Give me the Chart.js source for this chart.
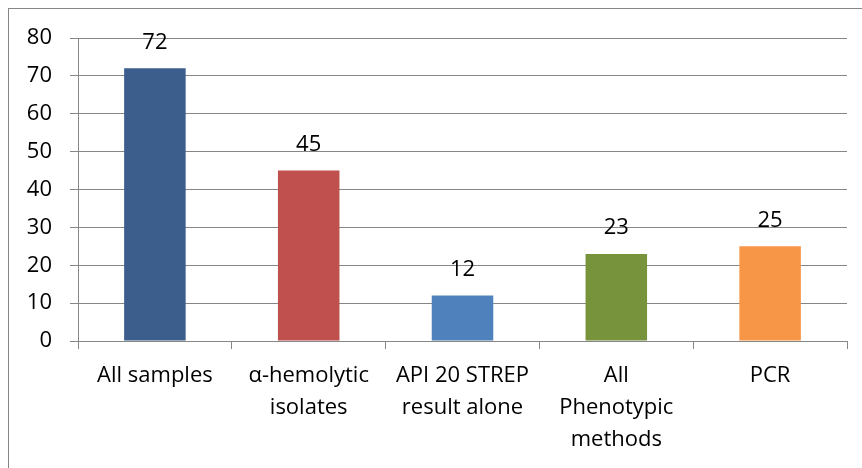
<!DOCTYPE html>
<html>
<head>
<meta charset="utf-8">
<script src="https://cdn.jsdelivr.net/npm/chart.js@4"></script>
<style>
  body { margin: 0; background: #fff; }
  #wrap { width: 862px; height: 468px; }
</style>
</head>
<body>
<div id="wrap"><canvas id="myChart" width="862" height="468"></canvas></div>
<script>
// chart values
const categories = [
    'All samples',
    ['\u03b1-hemolytic', 'isolates'],
    ['API 20 STREP', 'result alone'],
    ['All', 'Phenotypic', 'methods'],
    'PCR'
];
const counts = [72, 45, 12, 23, 25];
const barColors = ['#3B5E8C', '#C0504D', '#4F81BD', '#77933C', '#F79646'];
const yTicks = [0, 10, 20, 30, 40, 50, 60, 70, 80];

const fontFamily = '"Open Sans", Lato, sans-serif';

// draws the value above each bar
const valueLabels = {
    id: 'valueLabels',
    afterDatasetsDraw(chart) {
        const ctx = chart.ctx;
        const meta = chart.getDatasetMeta(0);
        ctx.save();
        ctx.font = '22px ' + fontFamily;
        ctx.fillStyle = '#000';
        ctx.textAlign = 'center';
        ctx.textBaseline = 'middle';
        meta.data.forEach((bar, i) => {
            ctx.fillText(counts[i], bar.x, bar.y - 26);
        });
        ctx.restore();
    }
};

// outer frame like the office chart border
const frame = {
    id: 'frame',
    beforeDraw(chart) {
        const ctx = chart.ctx;
        ctx.save();
        ctx.strokeStyle = '#868686';
        ctx.lineWidth = 1;
        ctx.strokeRect(8.5, 8.5, 1000, 1000);
        ctx.restore();
    }
};

const ctx = document.getElementById('myChart').getContext('2d');
const myChart = new Chart(ctx, {
    type: 'bar',
    data: {
        labels: categories,
        datasets: [{
            data: counts,
            backgroundColor: barColors,
            borderWidth: 0,
            categoryPercentage: 1,
            barPercentage: 0.4
        }]
    },
    options: {
        responsive: false,
        animation: false,
        layout: { padding: { top: 38, right: 15, left: 0, bottom: 0 } },
        plugins: {
            legend: { display: false },
            tooltip: { enabled: false }
        },
        scales: {
            x: {
                afterFit(scale) { scale.height = 127; },
                grid: {
                    offset: true,
                    drawOnChartArea: false,
                    drawTicks: true,
                    tickLength: 8,
                    color: '#868686'
                },
                border: { color: '#868686', width: 1 },
                ticks: {
                    color: '#000',
                    padding: 11,
                    maxRotation: 0,
                    autoSkip: false,
                    font: { family: fontFamily, size: 22, lineHeight: 1.45 }
                }
            },
            y: {
                min: 0,
                max: 80,
                afterFit(scale) { scale.width = 78; },
                afterBuildTicks(scale) { scale.ticks = yTicks.map(v => ({ value: v })); },
                grid: {
                    color: '#868686',
                    tickLength: 8
                },
                border: { color: '#868686', width: 1 },
                ticks: {
                    color: '#000',
                    padding: 18,
                    font: { family: fontFamily, size: 22 }
                }
            }
        }
    },
    plugins: [frame, valueLabels]
});
</script>
</body>
</html>
